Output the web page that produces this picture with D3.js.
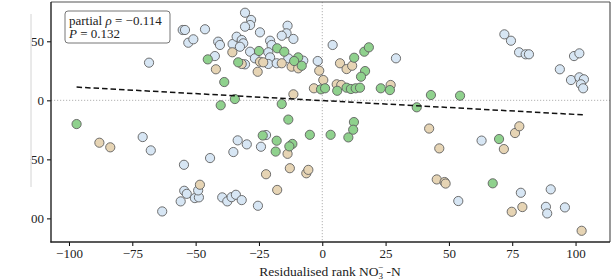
<!DOCTYPE html>
<html>
<head>
<meta charset="utf-8">
<script src="https://cdn.jsdelivr.net/npm/d3@7"></script>
<style>
  body { margin: 0; background: #fff; }
  text { font-family: "Liberation Serif", "DejaVu Serif", serif; }
</style>
</head>
<body>
<script>
// Size and padding
const w = 616;
const h = 280;
const padding = { top: 2, bottom: 38, right: 6, left: 51 };

// Points: [residualised rank NO3-N, residualised response]
const blueGroup = [
  [-55.1, 59.6], [-54.2, 59.6], [-46.3, 60.2], [-52.9, 48.8], [-50.9, 51.7], [-68.4, 31.9],
  [-41.1, 49.7], [-40.4, 46.9], [-35.4, 47.7], [-42.4, 37.5], [-30.5, 74.2], [-28.1, 68.1],
  [-28.5, 63.8], [-30.5, 62.4], [-24.6, 57.6], [-13.7, 63.2], [-14.1, 56.8], [-16.0, 54.7],
  [-11.4, 52.0], [-33.8, 53.9], [-31.8, 51.1], [-31.2, 48.3], [-32.5, 45.4], [-20.6, 50.5],
  [-20.0, 46.9], [-28.5, 41.2], [-21.3, 40.7], [-26.6, 35.6], [-20.6, 36.4], [-13.4, 35.6],
  [-7.5, 33.6], [-30.5, 30.5], [-21.3, 30.8], [-18.0, 31.4], [-1.8, 33.3], [4.1, 46.9],
  [29.1, 35.6], [71.9, 55.9], [74.5, 50.5], [77.7, 40.7], [80.3, 39.0], [81.6, 39.0],
  [93.8, 26.3], [99.4, 37.5], [101.5, 39.8], [98.2, 17.2], [101.5, 19.5], [103.3, 17.8],
  [102.1, 13.6], [103.0, 10.2],
  [-70.9, -31.1], [-67.7, -42.4], [-54.6, -54.6], [-44.3, -48.9], [-35.1, -43.8], [-33.4, -33.9],
  [-63.2, -94.1], [-55.9, -85.6], [-54.5, -76.6], [-53.5, -79.2], [-50.3, -82.8], [-48.7, -82.2],
  [-49.0, -76.3], [-39.5, -82.2], [-37.5, -85.6], [-35.8, -82.0], [-34.1, -80.0], [-31.8, -84.5],
  [-29.8, -37.3], [-24.2, -39.3], [-22.2, -29.4], [-25.4, -89.3],
  [62.9, -34.1], [53.7, -85.3], [78.4, -78.3], [90.2, -75.4], [88.3, -90.2], [88.8, -95.8],
  [95.8, -90.7]
];

const tanGroup = [
  [-35.5, 40.7], [-42.0, 26.3], [-31.8, 30.8], [-24.6, 32.7], [-23.3, 32.2], [-16.0, 31.4],
  [-12.1, 28.5], [-9.5, 27.1], [-25.5, 24.2], [-1.2, 25.1], [0.4, 17.2], [-3.3, 10.2],
  [-11.4, 5.1], [7.0, 31.4], [9.6, 26.5], [11.8, 29.3], [5.7, 13.6], [7.5, 13.0], [27.0, 13.0],
  [-88.0, -35.9], [-83.7, -39.8], [-48.3, -71.5], [-13.7, -45.3], [-22.2, -62.6], [-12.8, -57.5],
  [-6.3, -61.8], [-5.5, -58.9], [-17.8, -75.9], [42.2, -23.9], [46.2, -40.7], [71.7, -41.3],
  [76.1, -27.7], [77.8, -22.0], [45.2, -67.0], [48.3, -69.2], [48.7, -70.5], [74.8, -94.4],
  [79.0, -90.4], [102.4, -110.5]
];

const greenGroup = [
  [-45.2, 34.7], [-38.7, 15.5], [-34.5, 1.1], [-40.1, -4.2], [-97.0, -20.1], [-25.0, 41.8],
  [-17.8, 44.1], [-15.0, 41.2], [-9.5, 36.4], [-11.1, 33.3], [-33.2, 32.2], [-8.1, 29.3],
  [-0.5, 9.3], [1.1, 10.2], [-16.0, -3.1], [-13.4, -16.3], [12.6, 36.1], [16.6, 41.2],
  [18.4, 44.9], [16.9, 24.8], [15.3, 20.0], [5.9, 8.1], [9.6, 10.7], [11.3, 9.6], [13.2, 10.2],
  [14.9, 10.7], [23.1, 10.2], [26.7, 8.7], [37.3, -5.9], [42.9, 4.5], [54.4, 3.9],
  [12.5, -18.4], [12.2, -24.9], [10.3, -31.4], [3.3, -29.2], [-4.9, -29.2], [-23.5, -29.8],
  [-18.0, -34.2], [-18.4, -43.4], [-11.8, -36.9], [-13.0, -39.0], [69.8, -32.8], [67.3, -70.3]
];

// Fitted line end points
const fitX = [-97, 103];
const fitY = [11.2, -12.3];

// Axis ticks
const xTicks = [-100, -75, -50, -25, 0, 25, 50, 75, 100];
const yTicks = [50, 0, -50, -100];

const groups = [
  { pts: blueGroup, fill: "#d7e6f4" },
  { pts: tanGroup, fill: "#e6d4b4" },
  { pts: greenGroup, fill: "#8fd18d" }
];

const svg = d3.select("body").append("svg").attr("width", w).attr("height", h);

const xScale = d3.scaleLinear().domain([-107.1, 113.6]).range([padding.left, w - padding.right]);
const yScale = d3.scaleLinear().domain([-120, 83.3]).range([h - padding.bottom, padding.top]);

// Zero reference lines
svg.append("line")
  .attr("x1", padding.left).attr("x2", w - padding.right)
  .attr("y1", yScale(0)).attr("y2", yScale(0))
  .attr("stroke", "#aaa").attr("stroke-width", 0.9).attr("stroke-dasharray", "1.2,1.8");
svg.append("line")
  .attr("x1", xScale(0)).attr("x2", xScale(0))
  .attr("y1", padding.top).attr("y2", h - padding.bottom)
  .attr("stroke", "#aaa").attr("stroke-width", 0.9).attr("stroke-dasharray", "1.2,1.8");

// Points, one colour group after another
groups.forEach((g) => {
  svg.append("g")
    .selectAll("circle")
    .data(g.pts)
    .enter()
    .append("circle")
    .attr("cx", (d) => xScale(d[0]))
    .attr("cy", (d) => yScale(d[1]))
    .attr("r", 4.6)
    .attr("fill", g.fill)
    .attr("stroke", "#606060")
    .attr("stroke-width", 0.9);
});

// Dashed fit line
svg.append("line")
  .attr("x1", xScale(fitX[0])).attr("y1", yScale(fitY[0]))
  .attr("x2", xScale(fitX[1])).attr("y2", yScale(fitY[1]))
  .attr("stroke", "#111").attr("stroke-width", 1.5).attr("stroke-dasharray", "5.5,3");

// Axes
const xAxis = d3.axisBottom(xScale).tickValues(xTicks).tickSize(4).tickPadding(3)
  .tickFormat((d) => (d < 0 ? "\u2212" + Math.abs(d) : d));
svg.append("g")
  .attr("transform", `translate(0, ${h - padding.bottom})`)
  .call(xAxis)
  .call((g) => g.select(".domain").remove())
  .call((g) => g.selectAll("text").attr("font-size", 13).attr("fill", "#222").attr("font-family", "Liberation Serif"));

const yAxis = d3.axisLeft(yScale).tickValues(yTicks).tickSize(4).tickPadding(3)
  .tickFormat((d) => (d < 0 ? "\u2212" + Math.abs(d) : d));
svg.append("g")
  .attr("transform", `translate(${padding.left}, 0)`)
  .call(yAxis)
  .call((g) => g.select(".domain").remove())
  .call((g) => g.selectAll("text").attr("font-size", 13).attr("fill", "#222").attr("font-family", "Liberation Serif"));

// Frame
const x0 = padding.left, x1 = w - padding.right, y0 = padding.top, y1 = h - padding.bottom;
svg.append("line").attr("x1", x0).attr("x2", x1).attr("y1", y0).attr("y2", y0).attr("stroke", "#555").attr("stroke-width", 1.2);
svg.append("line").attr("x1", x1).attr("x2", x1).attr("y1", y0).attr("y2", y1).attr("stroke", "#555").attr("stroke-width", 1.2);
svg.append("line").attr("x1", x0).attr("x2", x0).attr("y1", y0).attr("y2", y1 + 0.6).attr("stroke", "#222").attr("stroke-width", 1.4);
svg.append("line").attr("x1", x0 - 0.6).attr("x2", x1).attr("y1", y1).attr("y2", y1).attr("stroke", "#222").attr("stroke-width", 1.4);

// X label
const xl = svg.append("text")
  .attr("x", 330).attr("y", 276)
  .attr("text-anchor", "middle")
  .attr("font-size", 13.5)
  .attr("fill", "#222");
xl.append("tspan").text("Residualised rank NO");
xl.append("tspan").attr("font-size", 9).attr("dy", 3).text("3");
xl.append("tspan").attr("font-size", 9).attr("dx", -5).attr("dy", -9).text("\u2212");
xl.append("tspan").attr("dy", 6).text(" -N");

// Stats box
svg.append("rect")
  .attr("x", 65).attr("y", 11).attr("width", 105).attr("height", 32).attr("rx", 3)
  .attr("fill", "#fff").attr("stroke", "#777").attr("stroke-width", 1);
const t1 = svg.append("text").attr("x", 69).attr("y", 24.5).attr("font-size", 13).attr("fill", "#222");
t1.append("tspan").text("partial ");
t1.append("tspan").attr("font-style", "italic").text("\u03c1");
t1.append("tspan").text(" = \u22120.114");
const t2 = svg.append("text").attr("x", 69).attr("y", 38).attr("font-size", 13).attr("fill", "#222");
t2.append("tspan").attr("font-style", "italic").text("P");
t2.append("tspan").text(" = 0.132");

// Cropped left edge of the original figure
svg.append("rect").attr("x", 0).attr("y", 0).attr("width", 30.5).attr("height", h).attr("fill", "#fff");
svg.append("line").attr("x1", 31).attr("x2", 31).attr("y1", 14).attr("y2", 187).attr("stroke", "#d4d4d4").attr("stroke-width", 1);
</script>
</body>
</html>
